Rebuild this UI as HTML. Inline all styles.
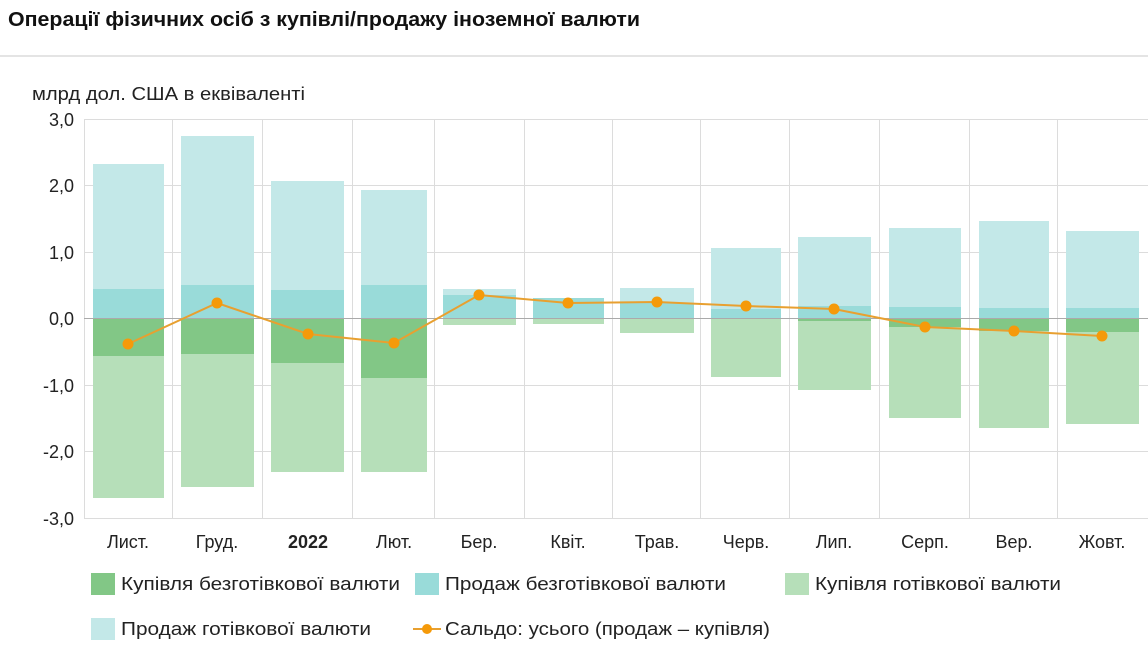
<!DOCTYPE html>
<html><head><meta charset="utf-8"><style>
body{margin:0;background:#fff;width:1148px;height:646px;overflow:hidden;font-family:"Liberation Sans",sans-serif;}
</style></head><body>
<svg width="1148" height="646" xmlns="http://www.w3.org/2000/svg" font-family="Liberation Sans, sans-serif">
<text x="8" y="26" font-size="20" font-weight="bold" fill="#111" textLength="632" lengthAdjust="spacingAndGlyphs">Операції фізичних осіб з купівлі/продажу іноземної валюти</text>
<rect x="0" y="55" width="1148" height="2" fill="#e4e4e4"/>
<text x="32" y="100" font-size="18" fill="#222" textLength="273" lengthAdjust="spacingAndGlyphs">млрд дол. США в еквіваленті</text>
<g stroke="#dcdcdc" stroke-width="1">
<line x1="84" y1="119.5" x2="1148" y2="119.5"/><line x1="84" y1="185.5" x2="1148" y2="185.5"/><line x1="84" y1="252.5" x2="1148" y2="252.5"/><line x1="84" y1="385.5" x2="1148" y2="385.5"/><line x1="84" y1="451.5" x2="1148" y2="451.5"/><line x1="84" y1="518.5" x2="1148" y2="518.5"/>
<line x1="84.5" y1="119" x2="84.5" y2="518"/><line x1="172.5" y1="119" x2="172.5" y2="518"/><line x1="262.5" y1="119" x2="262.5" y2="518"/><line x1="352.5" y1="119" x2="352.5" y2="518"/><line x1="434.5" y1="119" x2="434.5" y2="518"/><line x1="524.5" y1="119" x2="524.5" y2="518"/><line x1="612.5" y1="119" x2="612.5" y2="518"/><line x1="700.5" y1="119" x2="700.5" y2="518"/><line x1="789.5" y1="119" x2="789.5" y2="518"/><line x1="879.5" y1="119" x2="879.5" y2="518"/><line x1="969.5" y1="119" x2="969.5" y2="518"/><line x1="1057.5" y1="119" x2="1057.5" y2="518"/>
</g>
<g font-size="18" fill="#222" text-anchor="end">
<text x="74" y="126">3,0</text><text x="74" y="192">2,0</text><text x="74" y="259">1,0</text><text x="74" y="325">0,0</text><text x="74" y="392">-1,0</text><text x="74" y="458">-2,0</text><text x="74" y="525">-3,0</text>
</g>
<g>
<rect x="93" y="164" width="71" height="125" fill="#c3e8e8"/><rect x="93" y="289" width="71" height="30" fill="#99dbd9"/><rect x="93" y="319" width="71" height="37" fill="#82c786"/><rect x="93" y="356" width="71" height="142" fill="#b6dfb9"/>
<rect x="181" y="136" width="73" height="149" fill="#c3e8e8"/><rect x="181" y="285" width="73" height="34" fill="#99dbd9"/><rect x="181" y="319" width="73" height="35" fill="#82c786"/><rect x="181" y="354" width="73" height="133" fill="#b6dfb9"/>
<rect x="271" y="181" width="73" height="109" fill="#c3e8e8"/><rect x="271" y="290" width="73" height="29" fill="#99dbd9"/><rect x="271" y="319" width="73" height="44" fill="#82c786"/><rect x="271" y="363" width="73" height="109" fill="#b6dfb9"/>
<rect x="361" y="190" width="66" height="95" fill="#c3e8e8"/><rect x="361" y="285" width="66" height="34" fill="#99dbd9"/><rect x="361" y="319" width="66" height="59" fill="#82c786"/><rect x="361" y="378" width="66" height="94" fill="#b6dfb9"/>
<rect x="443" y="289" width="73" height="6" fill="#c3e8e8"/><rect x="443" y="295" width="73" height="24" fill="#99dbd9"/><rect x="443" y="319" width="73" height="6" fill="#b6dfb9"/>
<rect x="533" y="298" width="71" height="21" fill="#99dbd9"/><rect x="533" y="319" width="71" height="5" fill="#b6dfb9"/>
<rect x="620" y="288" width="74" height="15" fill="#c3e8e8"/><rect x="620" y="303" width="74" height="16" fill="#99dbd9"/><rect x="620" y="319" width="74" height="14" fill="#b6dfb9"/>
<rect x="711" y="248" width="70" height="61" fill="#c3e8e8"/><rect x="711" y="309" width="70" height="10" fill="#99dbd9"/><rect x="711" y="319" width="70" height="58" fill="#b6dfb9"/>
<rect x="798" y="237" width="73" height="69" fill="#c3e8e8"/><rect x="798" y="306" width="73" height="13" fill="#99dbd9"/><rect x="798" y="319" width="73" height="2" fill="#82c786"/><rect x="798" y="321" width="73" height="69" fill="#b6dfb9"/>
<rect x="889" y="228" width="72" height="79" fill="#c3e8e8"/><rect x="889" y="307" width="72" height="12" fill="#99dbd9"/><rect x="889" y="319" width="72" height="8" fill="#82c786"/><rect x="889" y="327" width="72" height="91" fill="#b6dfb9"/>
<rect x="979" y="221" width="70" height="87" fill="#c3e8e8"/><rect x="979" y="308" width="70" height="11" fill="#99dbd9"/><rect x="979" y="319" width="70" height="12" fill="#82c786"/><rect x="979" y="331" width="70" height="97" fill="#b6dfb9"/>
<rect x="1066" y="231" width="73" height="77" fill="#c3e8e8"/><rect x="1066" y="308" width="73" height="11" fill="#99dbd9"/><rect x="1066" y="319" width="73" height="13" fill="#82c786"/><rect x="1066" y="332" width="73" height="92" fill="#b6dfb9"/>
</g>
<line x1="84" y1="318.5" x2="1148" y2="318.5" stroke="#aaa" stroke-width="1"/>
<polyline fill="none" stroke="#e8a030" stroke-width="2" points="128,344 217,303 308,334 394,343 479,295 568,303 657,302 746,306 834,309 925,327 1014,331 1102,336"/>
<g fill="#f59a0a">
<circle cx="128" cy="344" r="5.5"/><circle cx="217" cy="303" r="5.5"/><circle cx="308" cy="334" r="5.5"/><circle cx="394" cy="343" r="5.5"/><circle cx="479" cy="295" r="5.5"/><circle cx="568" cy="303" r="5.5"/><circle cx="657" cy="302" r="5.5"/><circle cx="746" cy="306" r="5.5"/><circle cx="834" cy="309" r="5.5"/><circle cx="925" cy="327" r="5.5"/><circle cx="1014" cy="331" r="5.5"/><circle cx="1102" cy="336" r="5.5"/>
</g>
<g font-size="18" fill="#222" text-anchor="middle">
<text x="128" y="548">Лист.</text><text x="217" y="548">Груд.</text><text x="308" y="548" font-weight="bold">2022</text><text x="394" y="548">Лют.</text><text x="479" y="548">Бер.</text><text x="568" y="548">Квіт.</text><text x="657" y="548">Трав.</text><text x="746" y="548">Черв.</text><text x="834" y="548">Лип.</text><text x="925" y="548">Серп.</text><text x="1014" y="548">Вер.</text><text x="1102" y="548">Жовт.</text>
</g>
<g font-size="18" fill="#222">
<rect x="91" y="573" width="24" height="22" fill="#82c786"/><text x="121" y="590" textLength="279" lengthAdjust="spacingAndGlyphs">Купівля безготівкової валюти</text>
<rect x="415" y="573" width="24" height="22" fill="#99dbd9"/><text x="445" y="590" textLength="281" lengthAdjust="spacingAndGlyphs">Продаж безготівкової валюти</text>
<rect x="785" y="573" width="24" height="22" fill="#b6dfb9"/><text x="815" y="590" textLength="246" lengthAdjust="spacingAndGlyphs">Купівля готівкової валюти</text>
<rect x="91" y="618" width="24" height="22" fill="#c3e8e8"/><text x="121" y="635" textLength="250" lengthAdjust="spacingAndGlyphs">Продаж готівкової валюти</text>
<line x1="413" y1="629" x2="441" y2="629" stroke="#e8a030" stroke-width="2"/><circle cx="427" cy="629" r="5" fill="#f59a0a"/><text x="445" y="635" textLength="325" lengthAdjust="spacingAndGlyphs">Сальдо: усього (продаж – купівля)</text>
</g>
</svg>
</body></html>
